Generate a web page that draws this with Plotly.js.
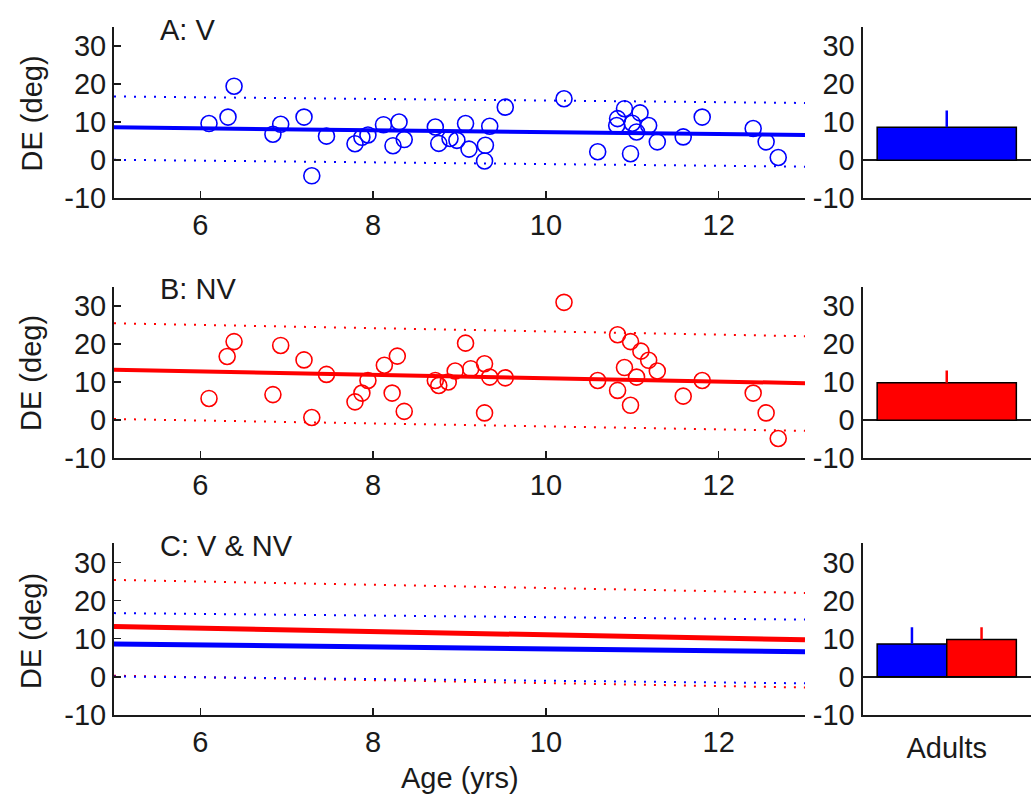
<!DOCTYPE html>
<html>
<head>
<meta charset="utf-8">
<script src="https://cdn.plot.ly/plotly-3.0.1.min.js"></script>
<style>html,body{margin:0;padding:0;background:#fff;}#chart{width:1031px;height:803px;}</style>
</head>
<body>
<div id="chart"></div>
<script>
// ---- Data ----
var ageV = [6.10, 6.32, 6.39, 6.84, 6.93, 7.20, 7.29, 7.46, 7.79, 7.87, 7.94, 8.12, 8.23, 8.30, 8.36, 8.72, 8.76, 8.89, 8.97, 9.07, 9.11, 9.29, 9.30, 9.35, 9.53, 10.21, 10.60, 10.82, 10.83, 10.91, 10.98, 11.00, 11.05, 11.09, 11.19, 11.29, 11.59, 11.81, 12.40, 12.55, 12.69];
var deV = [9.6, 11.3, 19.4, 6.8, 9.4, 11.3, -4.1, 6.3, 4.3, 6.0, 6.6, 9.3, 3.8, 10.0, 5.4, 8.7, 4.4, 5.7, 5.2, 9.6, 2.9, -0.2, 3.9, 8.9, 13.9, 16.1, 2.2, 9.1, 10.9, 13.5, 1.7, 9.7, 7.4, 12.4, 9.1, 4.8, 6.1, 11.3, 8.3, 4.8, 0.7];
var ageNV = [6.10, 6.31, 6.39, 6.84, 6.93, 7.20, 7.29, 7.46, 7.79, 7.87, 7.94, 8.13, 8.22, 8.28, 8.36, 8.72, 8.76, 8.87, 8.95, 9.07, 9.13, 9.29, 9.29, 9.35, 9.53, 10.21, 10.60, 10.83, 10.83, 10.91, 10.98, 10.98, 11.05, 11.10, 11.19, 11.29, 11.59, 11.81, 12.40, 12.55, 12.69];
var deNV = [5.7, 16.7, 20.6, 6.7, 19.6, 15.8, 0.7, 12.0, 4.8, 7.1, 10.4, 14.4, 7.1, 16.8, 2.3, 10.4, 9.1, 10.0, 12.9, 20.2, 13.5, 14.8, 1.9, 11.3, 11.1, 30.9, 10.4, 7.8, 22.4, 13.8, 20.6, 3.9, 11.3, 18.1, 15.7, 12.9, 6.3, 10.4, 7.1, 1.9, -4.8];

var fitAge = [5, 13];
var fitV = [8.6, 6.6];
var fitVup = [16.7, 15.0];
var fitVlo = [0.1, -1.7];
var fitNV = [13.2, 9.7];
var fitNVup = [25.4, 22.0];
var fitNVlo = [0.3, -2.8];

var adultGroups = ['V', 'NV'];
var adultMean = [8.6, 9.8];
var adultErr = [4.4, 3.2];
var barCategory = ['Adults'];

var panelLabels = ['A: V', 'B: NV', 'C: V & NV'];
var yTicks = [-10, 0, 10, 20, 30];
var yTickText = ['-10', '0', '10', '20', '30'];
var xTicks = [6, 8, 10, 12];

// ---- Styles ----
var BLUE = '#0000ff', RED = '#ff0000', INK = '#1a1a1a';
var FONT = 'Liberation Sans, Arial, sans-serif';
var FS = 29;
var dotted = '2px,8px';

function fitTraces(xa, ya, mid, up, lo, color, w) {
  return [
    {x: fitAge, y: mid, xaxis: xa, yaxis: ya, mode: 'lines', line: {color: color, width: w}, showlegend: false, hoverinfo: 'skip'},
    {x: fitAge, y: up, xaxis: xa, yaxis: ya, mode: 'lines', line: {color: color, width: 2, dash: dotted}, showlegend: false, hoverinfo: 'skip'},
    {x: fitAge, y: lo, xaxis: xa, yaxis: ya, mode: 'lines', line: {color: color, width: 2, dash: dotted}, showlegend: false, hoverinfo: 'skip'}
  ];
}
function scatterTrace(xa, ya, xs, ys, color) {
  return {x: xs, y: ys, xaxis: xa, yaxis: ya, mode: 'markers', showlegend: false,
    marker: {symbol: 'circle-open', size: 16, color: color, line: {width: 1.6, color: color}}};
}
function barTrace(xa, ya, idx, color) {
  return {type: 'bar', x: [0], y: [adultMean[idx]], name: adultGroups[idx], xaxis: xa, yaxis: ya, showlegend: false,
    marker: {color: color, line: {color: '#000', width: 1.5}},
    error_y: {type: 'data', symmetric: false, array: [adultErr[idx]], arrayminus: [0], width: 0, thickness: 2.5, color: color}};
}

var traces = [];
traces = traces.concat(fitTraces('x', 'y', fitV, fitVup, fitVlo, BLUE, 4));
traces.push(scatterTrace('x', 'y', ageV, deV, BLUE));
traces.push(barTrace('x2', 'y2', 0, BLUE));

traces = traces.concat(fitTraces('x3', 'y3', fitNV, fitNVup, fitNVlo, RED, 4));
traces.push(scatterTrace('x3', 'y3', ageNV, deNV, RED));
traces.push(barTrace('x4', 'y4', 1, RED));

traces = traces.concat(fitTraces('x5', 'y5', fitNV, fitNVup, fitNVlo, RED, 5));
traces = traces.concat(fitTraces('x5', 'y5', fitV, fitVup, fitVlo, BLUE, 5));
traces.push(barTrace('x6', 'y6', 0, BLUE));
traces.push(barTrace('x6', 'y6', 1, RED));

var sxDom = [114 / 1031, 805 / 1031];
var bxDom = [862.5 / 1031, 1];
var yDoms = [[1 - 198.3 / 803, 1 - 26.7 / 803], [1 - 458.3 / 803, 1 - 286.7 / 803], [1 - 715 / 803, 1 - 543.3 / 803]];

function sx(anchor, dom) {
  return {domain: dom, anchor: anchor, range: [5, 13], tickvals: xTicks, ticks: 'inside', ticklen: 7, tickwidth: 1.5, tickcolor: INK,
    showline: true, linecolor: INK, linewidth: 2, showgrid: false, zeroline: false,
    tickfont: {family: FONT, size: FS, color: INK}};
}
function sy(anchor, dom) {
  return {domain: dom, anchor: anchor, range: [-10, 35], tickvals: yTicks, ticktext: yTickText, ticks: 'inside', ticklen: 7, tickwidth: 1.5, tickcolor: INK,
    showline: true, linecolor: INK, linewidth: 2, showgrid: false, zeroline: false,
    tickfont: {family: FONT, size: FS, color: INK}};
}
function bx(anchor, dom, labels) {
  var a = {domain: dom, anchor: anchor, range: [-0.5, 0.5], showline: true, linecolor: INK, linewidth: 2, showgrid: false, zeroline: false,
    ticks: '', tickfont: {family: FONT, size: FS, color: INK}};
  if (labels) { a.tickvals = [0]; a.ticktext = barCategory; a.ticklabelstandoff = 6; } else { a.showticklabels = false; }
  return a;
}
function by(anchor, dom) {
  return {domain: dom, anchor: anchor, range: [-10, 35], tickvals: yTicks, ticktext: yTickText, ticks: '', showline: true, linecolor: INK, linewidth: 2,
    showgrid: false, zeroline: true, zerolinecolor: INK, zerolinewidth: 1.5,
    tickfont: {family: FONT, size: FS, color: INK}};
}

var annFont = {family: FONT, size: FS, color: INK};
var annotations = [
  {text: panelLabels[0], x: 158 / 1031, y: 1 - 30 / 803},
  {text: panelLabels[1], x: 158 / 1031, y: 1 - 289 / 803},
  {text: panelLabels[2], x: 158 / 1031, y: 1 - 546 / 803}
].map(function (a) { return Object.assign(a, {xref: 'paper', yref: 'paper', xanchor: 'left', yanchor: 'middle', showarrow: false, font: annFont}); });
[113.5, 373, 631].forEach(function (cy) {
  annotations.push({text: 'DE (deg)', textangle: -90, x: 31 / 1031, y: 1 - cy / 803, xref: 'paper', yref: 'paper',
    xanchor: 'center', yanchor: 'middle', showarrow: false, font: annFont});
});
annotations.push({text: 'Age (yrs)', x: 460 / 1031, y: 1 - 778 / 803, xref: 'paper', yref: 'paper', xanchor: 'center', yanchor: 'middle', showarrow: false, font: annFont});

var layout = {
  width: 1031, height: 803,
  margin: {l: 0, r: 0, t: 0, b: 0},
  paper_bgcolor: '#fff', plot_bgcolor: '#fff',
  showlegend: false,
  barmode: 'group', bargap: 0.174, bargroupgap: 0,
  font: {family: FONT, size: FS, color: INK},
  xaxis: sx('y', sxDom), yaxis: sy('x', yDoms[0]),
  xaxis2: bx('y2', bxDom, false), yaxis2: by('x2', yDoms[0]),
  xaxis3: sx('y3', sxDom), yaxis3: sy('x3', yDoms[1]),
  xaxis4: bx('y4', bxDom, false), yaxis4: by('x4', yDoms[1]),
  xaxis5: sx('y5', sxDom), yaxis5: sy('x5', yDoms[2]),
  xaxis6: bx('y6', bxDom, true), yaxis6: by('x6', yDoms[2]),
  annotations: annotations
};

Plotly.newPlot('chart', traces, layout, {staticPlot: true, displayModeBar: false});
</script>
</body>
</html>
